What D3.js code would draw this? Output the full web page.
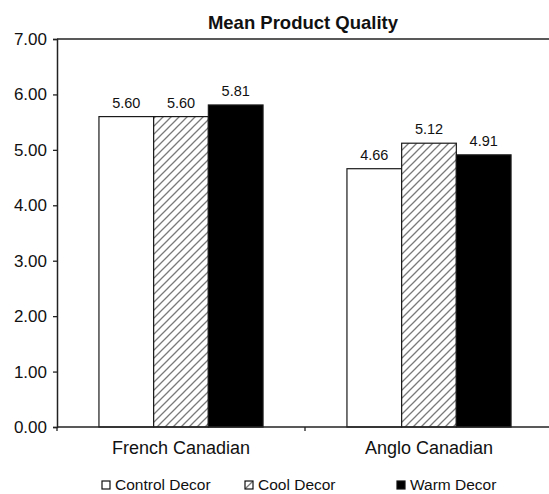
<!DOCTYPE html>
<html>
<head>
<meta charset="utf-8">
<script src="https://cdn.jsdelivr.net/npm/d3@7"></script>
<style>
  html, body { margin: 0; padding: 0; background: #fff; overflow: hidden; }
  svg { display: block; font-family: "Liberation Sans", Arial, Helvetica, sans-serif; }
</style>
</head>
<body>
<svg id="chart" width="549" height="494"></svg>
<script>
// Mean product quality by cultural group and store decor
const categories = ["French Canadian", "Anglo Canadian"];
const seriesNames = ["Control Decor", "Cool Decor", "Warm Decor"];
const controlDecor = [5.60, 4.66];
const coolDecor = [5.60, 5.12];
const warmDecor = [5.81, 4.91];
const yTicks = [0, 1, 2, 3, 4, 5, 6, 7];
const chartTitle = "Mean Product Quality";

const seriesValues = [controlDecor, coolDecor, warmDecor];
const fills = ["#ffffff", "url(#hatch)", "#000000"];

const svg = d3.select("#chart");
const plot = { left: 57, right: 553, top: 39, bottom: 427 };

// diagonal hatch used for the cool decor bars
const defs = svg.append("defs");
const pat = defs.append("pattern")
  .attr("id", "hatch")
  .attr("patternUnits", "userSpaceOnUse")
  .attr("width", 8).attr("height", 8);
pat.append("rect").attr("width", 8).attr("height", 8).attr("fill", "#fff");
pat.append("path")
  .attr("d", "M-2,2 L2,-2 M0,8 L8,0 M6,10 L10,6")
  .attr("stroke", "#7a7a7a").attr("stroke-width", 1.3);

const x0 = d3.scaleBand().domain(categories).range([plot.left, plot.right]).padding(0);
const x1 = d3.scaleBand().domain(seriesNames).range([0, x0.bandwidth()])
  .paddingInner(0).paddingOuter(0.767);
const y = d3.scaleLinear().domain([0, 7]).range([plot.bottom, plot.top]);

// top edge of the plot frame
svg.append("line")
  .attr("x1", plot.left).attr("x2", plot.right)
  .attr("y1", plot.top).attr("y2", plot.top)
  .attr("stroke", "#222").attr("stroke-width", 1.5);

// bars
const rows = [];
categories.forEach((c, ci) => {
  seriesNames.forEach((s, si) => rows.push({ c, s, si, v: seriesValues[si][ci] }));
});

svg.append("g").selectAll("rect")
  .data(rows).join("rect")
  .attr("x", d => x0(d.c) + x1(d.s))
  .attr("y", d => y(d.v))
  .attr("width", x1.bandwidth())
  .attr("height", d => y(0) - y(d.v))
  .attr("fill", d => fills[d.si])
  .attr("stroke", "#1a1a1a").attr("stroke-width", 1.2);

// value labels
svg.append("g").selectAll("text")
  .data(rows).join("text")
  .attr("x", d => x0(d.c) + x1(d.s) + x1.bandwidth() / 2)
  .attr("y", d => y(d.v) - 9)
  .attr("text-anchor", "middle")
  .attr("font-size", "14.5px")
  .attr("fill", "#111")
  .text(d => d.v.toFixed(2));

// y axis
const yAxis = d3.axisLeft(y).tickValues(yTicks).tickFormat(d3.format(".2f"))
  .tickSize(4).tickPadding(6);
const gy = svg.append("g").attr("transform", `translate(${plot.left},0)`).call(yAxis);
gy.select(".domain").attr("stroke", "#222").attr("stroke-width", 1.5);
gy.selectAll(".tick line").attr("stroke", "#222").attr("stroke-width", 1.3);
gy.selectAll(".tick text").attr("font-size", "17px").attr("fill", "#111")
  .attr("font-family", "Liberation Sans, Arial, sans-serif");

// x axis with category separators
const gx = svg.append("g").attr("transform", `translate(0,${plot.bottom})`);
gx.append("line").attr("x1", plot.left).attr("x2", plot.right)
  .attr("stroke", "#222").attr("stroke-width", 1.5);
const seps = [plot.left, x0(categories[1])];
gx.selectAll("line.sep").data(seps).join("line").attr("class", "sep")
  .attr("x1", d => d).attr("x2", d => d).attr("y1", 0).attr("y2", 4)
  .attr("stroke", "#222").attr("stroke-width", 1.3);
gx.selectAll("text").data(categories).join("text")
  .attr("x", d => x0(d) + x0.bandwidth() / 2)
  .attr("y", 27)
  .attr("text-anchor", "middle")
  .attr("font-size", "18px")
  .attr("fill", "#111")
  .text(d => d);

// title
svg.append("text")
  .attr("x", 303).attr("y", 29)
  .attr("text-anchor", "middle")
  .attr("font-size", "18.5px").attr("font-weight", "bold")
  .attr("fill", "#111")
  .text(chartTitle);

// legend
const legendX = [102, 245, 397];
const lg = svg.append("g").selectAll("g")
  .data(seriesNames).join("g")
  .attr("transform", (d, i) => `translate(${legendX[i]},481)`);
lg.append("rect")
  .attr("width", 8).attr("height", 8)
  .attr("fill", (d, i) => fills[i])
  .attr("stroke", "#111").attr("stroke-width", 1.2);
lg.append("text")
  .attr("x", 13).attr("y", 8.5)
  .attr("font-size", "15.5px").attr("fill", "#111")
  .text(d => d);
</script>
</body>
</html>
